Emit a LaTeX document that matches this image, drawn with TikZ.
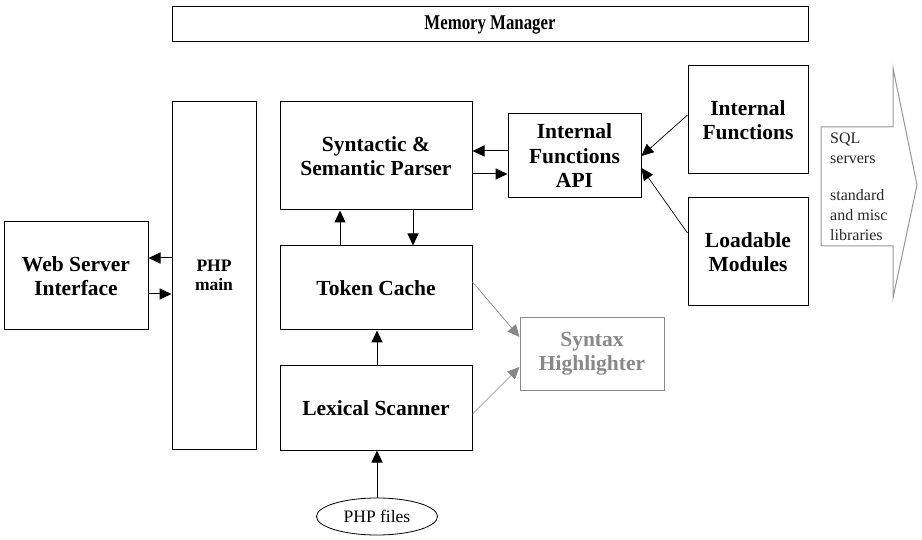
\documentclass[tikz,border=0pt]{standalone}
\usepackage{fontspec}
\setmainfont{Liberation Serif}
\usepackage{graphicx}
\usetikzlibrary{arrows.meta,shapes.geometric}
\definecolor{hlgray}{RGB}{136,136,136}
\definecolor{arrgray}{RGB}{150,150,150}
\begin{document}
\begin{tikzpicture}[x=1pt,y=-1pt,
  box/.style={draw,line width=1pt,rectangle,inner sep=0pt,align=center,
    font=\bfseries\fontsize{21.5}{24.5}\selectfont},
  arr/.style={line width=1pt,-{Triangle[length=12pt,width=11pt]}},
  thinarr/.style={line width=0.7pt,-{Triangle[length=12pt,width=11pt]}},
  grayarr/.style={hlgray,line width=0.7pt,-{Triangle[length=12pt,width=11pt]}}]
\useasboundingbox (0,0) rectangle (922,540);

\node[box,minimum width=636pt,minimum height=35pt,font=\bfseries\fontsize{21}{24}\selectfont] (mm) at (490,24.5) {\scalebox{0.8}[1]{Memory Manager}};
\node[box,minimum width=144pt,minimum height=108pt] (ws) at (76,276) {Web Server\\Interface};
\node[box,minimum width=84pt,minimum height=347pt,font=\bfseries\fontsize{17.5}{19.5}\selectfont] (php) at (214,275.5) {PHP\\main};
\node[box,minimum width=192pt,minimum height=108pt] (parser) at (376,156) {Syntactic \&\\Semantic Parser};
\node[box,minimum width=133pt,minimum height=84pt] (api) at (574.5,156) {Internal\\Functions\\API};
\node[box,minimum width=120pt,minimum height=108pt] (intf) at (748,120) {Internal\\Functions};
\node[box,minimum width=120pt,minimum height=108pt] (lm) at (748,252) {Loadable\\Modules};
\node[box,minimum width=192pt,minimum height=84pt] (tc) at (376,288) {Token Cache};
\node[box,draw=hlgray,text=hlgray,minimum width=144pt,minimum height=72pt] (sh) at (592,354) {Syntax\\Highlighter};
\node[box,minimum width=192pt,minimum height=84pt] (ls) at (376,408) {Lexical Scanner};
\node[draw,ellipse,line width=0.8pt,minimum width=121pt,minimum height=37pt,inner sep=0pt,
  font=\fontsize{17.5}{19}\selectfont] (files) at (377,516.5) {PHP files};

% big libraries arrow
\draw[arrgray,line width=1pt] (821,127) -- (893,127) -- (893,68) -- (917,185)
  -- (893,298) -- (893,246) -- (821,246) -- cycle;
\node[anchor=north west,align=left,inner sep=0pt,text=black!85,
  font=\fontsize{16}{20}\selectfont] (libs) at (830,133)
  {SQL\\servers\\[17pt]standard\\and misc\\libraries};

% connectors
\draw[arr] ([yshift=17.5pt]php.west) -- ([yshift=18pt]ws.east);
\draw[arr] ([yshift=-18pt]ws.east) -- ([yshift=-18.5pt]php.west);
\draw[arr] ([yshift=5pt]api.west) -- ([yshift=5pt]parser.east);
\draw[arr] ([yshift=-18pt]parser.east) -- ([yshift=-18pt]api.west);
\draw[arr] ([xshift=-36pt]tc.north) -- ([xshift=-36pt]parser.south);
\draw[arr] ([xshift=37pt]parser.south) -- ([xshift=37pt]tc.north);
\draw[arr] ([xshift=1pt]ls.north) -- ([xshift=1pt]tc.south);
\draw[arr] (files.north) -- ([xshift=1pt]ls.south);
\draw[thinarr] ([yshift=5pt]intf.west) -- (api.east);
\draw[thinarr] ([yshift=19pt]lm.west) -- ([yshift=-12pt]api.east);
\draw[grayarr] ([yshift=6pt]tc.east) -- ([yshift=17pt]sh.west);
\draw[grayarr] ([yshift=-6pt]ls.east) -- ([yshift=-13pt]sh.west);
\end{tikzpicture}
\end{document}
